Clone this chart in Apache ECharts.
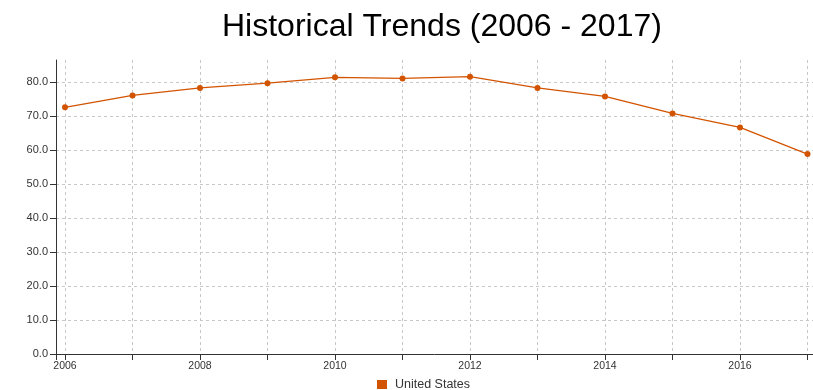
<!DOCTYPE html>
<html>
<head>
<meta charset="utf-8">
<script src="https://cdn.jsdelivr.net/npm/echarts@6/dist/echarts.min.js"></script>
<style>
  html, body { margin: 0; padding: 0; background: #fff; }
  #chart { width: 813px; height: 390px; }
</style>
</head>
<body>
<div id="chart"></div>
<script>
// Yearly values for the United States series
var years = [2006, 2007, 2008, 2009, 2010, 2011, 2012, 2013, 2014, 2015, 2016, 2017];
var usValues = [72.5, 76.0, 78.2, 79.6, 81.3, 81.0, 81.5, 78.2, 75.7, 70.7, 66.6, 58.75];
var seriesName = 'United States';
var titleText = 'Historical Trends (2006 - 2017)';

var lineColor = '#d35400';
var axisColor = '#333';
var gridColor = '#c8c8c8';
var fontFamily = 'Liberation Sans, Arial, sans-serif';
var yMax = 86.4;

var chart = echarts.init(document.getElementById('chart'), null, { renderer: 'canvas' });

var points = years.map(function (y, i) { return [y, usValues[i]]; });

var dashed = { color: gridColor, type: [3, 3], width: 1 };

chart.setOption({
  animation: false,
  title: {
    text: titleText,
    left: 217,
    top: 6,
    textStyle: { fontFamily: fontFamily, fontSize: 32, fontWeight: 'normal', color: '#000' }
  },
  legend: {
    data: [seriesName],
    top: 378,
    left: 377,
    padding: 0,
    icon: 'rect',
    itemWidth: 10,
    itemHeight: 9,
    itemGap: 8,
    textStyle: { fontFamily: fontFamily, fontSize: 12.5, color: '#333', padding: [0, 0, 0, 3] }
  },
  // grid 0: full frame with the value axis and horizontal rules
  // grid 1: plotting area for the yearly points
  grid: [
    { left: 56, right: 0, top: 60, bottom: 36, containLabel: false },
    { left: 65, right: 5.5, top: 60, bottom: 36, containLabel: false }
  ],
  xAxis: [
    {
      gridIndex: 0,
      type: 'value',
      min: 0,
      max: 1,
      interval: 1,
      axisLine: { show: true, lineStyle: { color: axisColor, width: 1 } },
      axisTick: { show: true, length: 6, lineStyle: { color: axisColor } },
      axisLabel: { show: false },
      splitLine: { show: false }
    },
    {
      gridIndex: 1,
      type: 'value',
      min: 2006,
      max: 2017,
      interval: 1,
      axisLine: { show: false },
      axisTick: { show: true, length: 6, lineStyle: { color: axisColor } },
      axisLabel: {
        margin: 7,
        fontFamily: fontFamily,
        fontSize: 10.5,
        color: '#333',
        formatter: function (v) { return v % 2 === 0 ? String(v) : ''; }
      },
      splitLine: { show: true, lineStyle: dashed }
    }
  ],
  yAxis: [
    {
      gridIndex: 0,
      type: 'value',
      min: 0,
      max: yMax,
      interval: 10,
      axisLine: { show: true, lineStyle: { color: axisColor, width: 1 } },
      axisTick: { show: true, length: 6, lineStyle: { color: axisColor } },
      axisLabel: {
        showMaxLabel: false,
        margin: 8,
        fontFamily: fontFamily,
        fontSize: 11,
        color: '#333',
        formatter: function (v) { return v.toFixed(1); }
      },
      splitLine: { show: true, showMinLine: false, showMaxLine: false, lineStyle: dashed }
    },
    {
      gridIndex: 1,
      type: 'value',
      min: 0,
      max: yMax,
      show: false,
      splitLine: { show: false }
    }
  ],
  series: [{
    name: seriesName,
    type: 'line',
    xAxisIndex: 1,
    yAxisIndex: 1,
    data: points,
    symbol: 'circle',
    symbolSize: 6,
    showAllSymbol: true,
    lineStyle: { color: lineColor, width: 1.3 },
    itemStyle: { color: lineColor }
  }]
});
</script>
</body>
</html>
